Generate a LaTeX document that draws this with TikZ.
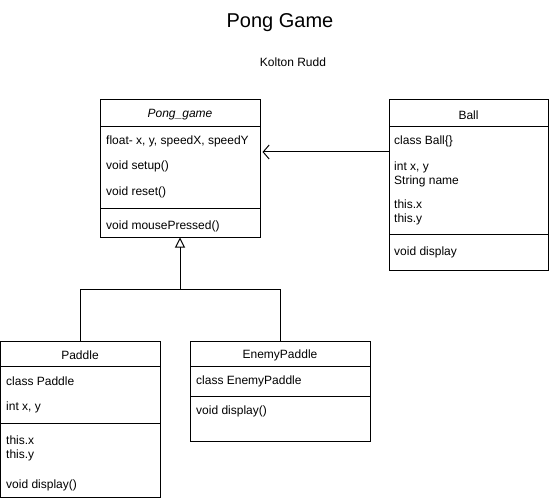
\documentclass[tikz,border=0pt]{standalone}
\usepackage{fontspec}
\setmainfont{Liberation Sans}
\usepackage{tikz}
\usetikzlibrary{arrows.meta}

\tikzset{
  umlbox/.style={draw, line width=1pt, inner sep=0pt},
  member/.style={anchor=west, inner sep=0pt, align=left, font=\fontsize{12}{14}\selectfont},
  header/.style={inner sep=0pt, font=\fontsize{12}{14}\selectfont},
  assoc/.style={line width=1pt, -{Straight Barb[length=6pt,width=14pt,line width=1pt]}},
  inherit/.style={line width=1pt, -{Triangle[open,length=10pt,width=10pt,line width=1pt]}}
}

\begin{document}
\begin{tikzpicture}[x=1pt,y=-1pt]
\useasboundingbox (0,0) rectangle (549,500);
\node[inner sep=0pt, font=\fontsize{20}{24}\selectfont] (title) at (280,23) {Pong Game};
\node[header] (author) at (293,62) {Kolton Rudd};

% Pong_game
\node[umlbox, minimum width=160pt, minimum height=137pt] (game) at (180,168.5) {};
\draw[line width=1pt] (100,127) -- (260,127);
\draw[line width=1pt] (100,208) -- (260,208);
\node[header] (gamename) at (180,115) {\itshape Pong\_game};
\node[member] (gamef) at (106,141.5) {float- x, y, speedX, speedY};
\node[member] (gamesetup) at (106,166.5) {void setup()};
\node[member] (gamereset) at (106,192.5) {void reset()};
\node[member] (gamemouse) at (106,226.5) {void mousePressed()};

% Ball
\node[umlbox, minimum width=159pt, minimum height=170pt] (ball) at (468.5,185) {};
\draw[line width=1pt] (389,127) -- (548,127);
\draw[line width=1pt] (389,234) -- (548,234);
\node[header] (ballname) at (468.5,115) {Ball};
\node[member] (ballclass) at (394,141.5) {class Ball\{\}};
\node[member] (ballvars) at (394,174.5) {int x, y\\String name};
\node[member] (ballthis) at (394,212.5) {this.x\\this.y};
\node[member] (balldisp) at (394,252.5) {void display};

% Paddle
\node[umlbox, minimum width=160pt, minimum height=156pt] (paddle) at (80,419) {};
\draw[line width=1pt] (0,366) -- (160,366);
\draw[line width=1pt] (0,423) -- (160,423);
\node[header] (paddlename) at (80,355) {Paddle};
\node[member] (paddleclass) at (6,381.5) {class Paddle};
\node[member] (paddlevars) at (6,407.5) {int x, y};
\node[member] (paddlethis) at (6,448.5) {this.x\\this.y};
\node[member] (paddledisp) at (6,485.5) {void display()};

% EnemyPaddle
\node[umlbox, minimum width=180pt, minimum height=100pt] (enemy) at (280,391) {};
\draw[line width=1pt] (190,366) -- (370,366);
\draw[line width=1pt] (190,396) -- (370,396);
\node[header] (enemyname) at (280,355) {EnemyPaddle};
\node[member] (enemyclass) at (196,381.5) {class EnemyPaddle};
\node[member] (enemydisp) at (196,411.5) {void display()};

% connectors
\coordinate (split) at (180,289);
\draw[line width=1pt] (paddle.north) |- (split);
\draw[line width=1pt] (enemy.north) |- (split);
\draw[inherit] (split) -- (game.south);
\draw[assoc, shorten >=2pt] (ball.west |- 0,152) -- (game.east |- 0,152);
\end{tikzpicture}
\end{document}
